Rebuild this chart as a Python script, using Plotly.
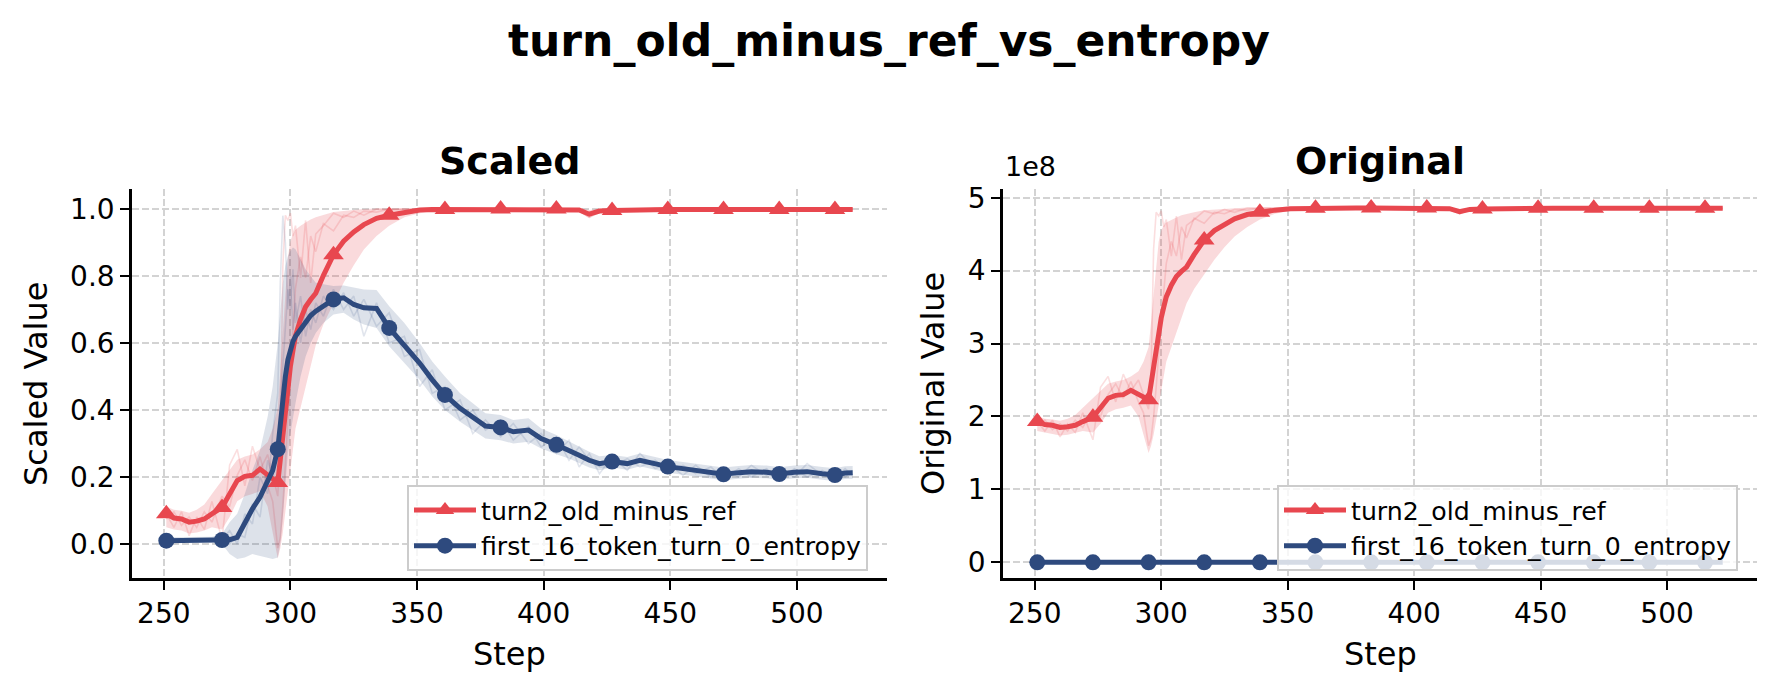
import plotly.graph_objects as go

# ---------------- data ----------------
steps = [251, 254, 257, 260, 263, 266, 269, 273, 276, 279,
         282, 285, 288, 291, 293, 295, 296, 297, 298, 299,
         300, 301, 302, 304, 306, 308, 310, 313, 317, 321,
         325, 329, 334, 339, 345, 351, 356, 361, 367, 372,
         377, 383, 388, 394, 399, 405, 410, 414, 418, 422,
         427, 433, 438, 444, 449, 455, 460, 466, 471, 477,
         482, 488, 493, 499, 504, 510, 515, 519, 522]

marker_steps = [251, 273, 295, 317, 339, 361, 383, 405, 427, 449, 471, 493, 515]

# turn2_old_minus_ref, original values in units of 1e8
red_mean = [1.93, 1.89, 1.88, 1.85, 1.86, 1.88, 1.93, 1.99, 2.12, 2.25,
            2.29, 2.30, 2.36, 2.30, 2.26, 2.23, 2.45, 2.68, 2.95, 3.20,
            3.35, 3.50, 3.64, 3.80, 3.92, 3.99, 4.05, 4.22, 4.42, 4.55,
            4.64, 4.71, 4.77, 4.80, 4.83, 4.85, 4.855, 4.855, 4.86, 4.86,
            4.86, 4.86, 4.86, 4.86, 4.86, 4.86, 4.855, 4.85, 4.81, 4.84,
            4.845, 4.85, 4.855, 4.855, 4.855, 4.855, 4.855, 4.855, 4.855, 4.855,
            4.855, 4.855, 4.855, 4.855, 4.855, 4.855, 4.855, 4.855, 4.855]
red_lo = [1.80, 1.78, 1.77, 1.74, 1.75, 1.77, 1.80, 1.78, 1.90, 2.05,
          2.10, 2.12, 2.15, 2.00, 1.75, 1.50, 1.60, 1.75, 1.95, 2.15,
          2.35, 2.55, 2.75, 2.95, 3.15, 3.35, 3.55, 3.75, 3.95, 4.15,
          4.32, 4.47, 4.60, 4.70, 4.78, 4.82, 4.835, 4.84, 4.845, 4.845,
          4.845, 4.845, 4.845, 4.845, 4.845, 4.845, 4.84, 4.83, 4.77, 4.82,
          4.83, 4.84, 4.84, 4.84, 4.84, 4.84, 4.84, 4.84, 4.84, 4.84,
          4.84, 4.84, 4.84, 4.84, 4.84, 4.84, 4.84, 4.84, 4.84]
red_hi = [2.00, 1.97, 1.96, 1.94, 1.97, 2.02, 2.12, 2.25, 2.35, 2.45,
          2.48, 2.50, 2.55, 2.62, 2.75, 2.95, 3.30, 3.70, 4.10, 4.40,
          4.55, 4.62, 4.66, 4.70, 4.73, 4.76, 4.78, 4.80, 4.83, 4.84,
          4.85, 4.86, 4.865, 4.87, 4.87, 4.87, 4.87, 4.87, 4.875, 4.875,
          4.875, 4.875, 4.875, 4.875, 4.875, 4.875, 4.87, 4.87, 4.85, 4.86,
          4.86, 4.865, 4.87, 4.87, 4.87, 4.87, 4.87, 4.87, 4.87, 4.87,
          4.87, 4.87, 4.87, 4.87, 4.87, 4.87, 4.87, 4.87, 4.87]
red_raw1 = [1.93, 1.80, 1.95, 1.72, 1.90, 1.78, 2.05, 1.68, 2.40, 2.55,
            2.20, 2.58, 2.35, 2.50, 2.30, 2.10, 2.60, 4.30, 4.80, 4.75,
            4.82, 4.60, 4.70, 4.20, 4.75, 4.15, 4.62, 4.70, 4.82, 4.78,
            4.84, 4.80, 4.86, 4.85, 4.86, 4.85, 4.87, 4.86, 4.86, 4.87,
            4.86, 4.87, 4.86, 4.86, 4.87, 4.86, 4.86, 4.84, 4.78, 4.85,
            4.86, 4.86, 4.85, 4.87, 4.86, 4.86, 4.85, 4.86, 4.87, 4.86,
            4.86, 4.85, 4.86, 4.86, 4.87, 4.86, 4.86, 4.85, 4.86]
red_raw2 = [1.88, 1.95, 1.82, 1.90, 1.80, 1.95, 1.85, 2.10, 2.00, 2.30,
            2.45, 2.25, 2.48, 2.20, 2.05, 1.60, 1.70, 2.00, 2.40, 2.90,
            3.30, 3.70, 4.10, 4.40, 4.20, 4.60, 4.45, 4.72, 4.65, 4.80,
            4.78, 4.84, 4.83, 4.86, 4.85, 4.86, 4.85, 4.86, 4.87, 4.86,
            4.86, 4.86, 4.87, 4.86, 4.86, 4.87, 4.85, 4.86, 4.80, 4.84,
            4.85, 4.86, 4.86, 4.85, 4.86, 4.87, 4.86, 4.85, 4.86, 4.86,
            4.85, 4.86, 4.86, 4.85, 4.86, 4.86, 4.87, 4.86, 4.85]
red_scale_min = 1.64   # min/max used for the "Scaled" panel (1e8 units)
red_scale_max = 4.86

# first_16_token_turn_0_entropy (scaled values)
blue_mean = [0.010, 0.010, 0.010, 0.010, 0.010, 0.010, 0.010, 0.012, 0.013, 0.020,
             0.065, 0.105, 0.140, 0.185, 0.220, 0.283, 0.360, 0.440, 0.500, 0.550,
             0.585, 0.605, 0.620, 0.642, 0.665, 0.682, 0.695, 0.712, 0.730, 0.735,
             0.715, 0.705, 0.703, 0.645, 0.595, 0.540, 0.490, 0.445, 0.405, 0.380,
             0.352, 0.348, 0.335, 0.340, 0.315, 0.296, 0.280, 0.265, 0.250, 0.240,
             0.246, 0.240, 0.250, 0.240, 0.231, 0.225, 0.220, 0.214, 0.208, 0.213,
             0.216, 0.214, 0.209, 0.214, 0.216, 0.210, 0.206, 0.212, 0.213]
blue_lo = [0.000, 0.003, 0.003, 0.003, 0.003, 0.003, 0.003, 0.000, -0.030, -0.045,
           -0.040, -0.030, -0.035, -0.040, -0.045, -0.040, 0.000, 0.080, 0.180, 0.270,
           0.330, 0.380, 0.420, 0.500, 0.560, 0.600, 0.630, 0.660, 0.685, 0.690,
           0.670, 0.655, 0.645, 0.590, 0.540, 0.490, 0.440, 0.400, 0.365, 0.340,
           0.315, 0.310, 0.300, 0.305, 0.285, 0.268, 0.255, 0.242, 0.228, 0.220,
           0.228, 0.222, 0.232, 0.222, 0.213, 0.207, 0.202, 0.196, 0.190, 0.195,
           0.198, 0.196, 0.191, 0.196, 0.198, 0.192, 0.188, 0.194, 0.195]
blue_hi = [0.020, 0.020, 0.020, 0.020, 0.020, 0.020, 0.022, 0.030, 0.065, 0.090,
           0.150, 0.220, 0.280, 0.380, 0.470, 0.600, 0.700, 0.780, 0.830, 0.860,
           0.875, 0.885, 0.880, 0.850, 0.820, 0.800, 0.780, 0.775, 0.770, 0.772,
           0.765, 0.760, 0.758, 0.710, 0.660, 0.600, 0.545, 0.500, 0.450, 0.420,
           0.390, 0.385, 0.370, 0.375, 0.345, 0.325, 0.305, 0.290, 0.275, 0.262,
           0.266, 0.260, 0.270, 0.260, 0.251, 0.245, 0.240, 0.234, 0.228, 0.233,
           0.236, 0.234, 0.229, 0.234, 0.236, 0.230, 0.226, 0.232, 0.233]
blue_raw1 = [0.010, 0.008, 0.012, 0.009, 0.011, 0.010, 0.012, 0.015, 0.040, 0.000,
             0.090, 0.060, 0.200, 0.150, 0.330, 0.450, 0.780, 0.980, 0.900, 0.700,
             0.800, 0.640, 0.720, 0.600, 0.700, 0.640, 0.720, 0.680, 0.760, 0.700,
             0.740, 0.620, 0.720, 0.600, 0.620, 0.470, 0.520, 0.400, 0.430, 0.330,
             0.370, 0.320, 0.360, 0.300, 0.330, 0.270, 0.310, 0.230, 0.270, 0.210,
             0.260, 0.220, 0.270, 0.225, 0.240, 0.205, 0.235, 0.200, 0.225, 0.200,
             0.235, 0.205, 0.225, 0.200, 0.240, 0.205, 0.222, 0.200, 0.220]
blue_raw2 = [0.012, 0.011, 0.009, 0.012, 0.008, 0.011, 0.009, 0.010, 0.000, 0.030,
             0.020, 0.120, 0.080, 0.250, 0.200, 0.300, 0.420, 0.550, 0.650, 0.760,
             0.700, 0.820, 0.660, 0.740, 0.620, 0.700, 0.660, 0.740, 0.700, 0.750,
             0.680, 0.730, 0.650, 0.690, 0.560, 0.580, 0.450, 0.470, 0.370, 0.400,
             0.340, 0.370, 0.310, 0.350, 0.290, 0.320, 0.250, 0.290, 0.250, 0.230,
             0.230, 0.255, 0.230, 0.250, 0.220, 0.235, 0.210, 0.230, 0.195, 0.225,
             0.200, 0.225, 0.195, 0.225, 0.200, 0.220, 0.195, 0.225, 0.205]

x_ticks = [250, 300, 350, 400, 450, 500]
y_ticks_scaled = [0.0, 0.2, 0.4, 0.6, 0.8, 1.0]
y_ticks_orig = [0, 1, 2, 3, 4, 5]
E8 = 1e8

names = ["turn2_old_minus_ref", "first_16_token_turn_0_entropy"]

# ---------------- style ----------------
W, H = 1777, 692
FONT = "DejaVu Sans"
RED = "#E8474F"
BLUE = "#2E4A7E"
RED_BAND = "rgba(232,71,79,0.20)"
BLUE_BAND = "rgba(46,74,126,0.16)"
RED_RAW = "rgba(232,71,79,0.18)"
BLUE_RAW = "rgba(46,74,126,0.14)"
LW = 5
TRI = 18
CIR = 16


def px(x):
    return x / W


def py(y):
    return 1 - y / H


def scale_red(vals):
    return [(v - red_scale_min) / (red_scale_max - red_scale_min) for v in vals]


def to_e8(vals):
    return [v * E8 for v in vals]


mark_idx = [steps.index(s) for s in marker_steps]

fig = go.Figure()


def add_band(xa, ya, lo, hi, raws, band, rawc):
    fig.add_trace(go.Scatter(x=steps, y=lo, mode="lines", line=dict(width=0, color=band),
                             xaxis=xa, yaxis=ya, showlegend=False, hoverinfo="skip"))
    fig.add_trace(go.Scatter(x=steps, y=hi, mode="lines", line=dict(width=0, color=band),
                             fill="tonexty", fillcolor=band,
                             xaxis=xa, yaxis=ya, showlegend=False, hoverinfo="skip"))
    for r in raws:
        fig.add_trace(go.Scatter(x=steps, y=r, mode="lines", line=dict(width=1.6, color=rawc),
                                 xaxis=xa, yaxis=ya, showlegend=False, hoverinfo="skip"))


def add_mean(xa, ya, mean, color, symbol, msize):
    fig.add_trace(go.Scatter(x=steps, y=mean, mode="lines", line=dict(width=LW, color=color),
                             xaxis=xa, yaxis=ya, showlegend=False))
    fig.add_trace(go.Scatter(x=[steps[i] for i in mark_idx], y=[mean[i] for i in mark_idx],
                             mode="markers", marker=dict(symbol=symbol, size=msize, color=color,
                                                         line=dict(width=0)),
                             xaxis=xa, yaxis=ya, showlegend=False))


# Scaled panel
add_band("x", "y", scale_red(red_lo), scale_red(red_hi),
         [scale_red(red_raw1), scale_red(red_raw2)], RED_BAND, RED_RAW)
add_band("x", "y", blue_lo, blue_hi, [blue_raw1, blue_raw2], BLUE_BAND, BLUE_RAW)
add_mean("x", "y", scale_red(red_mean), RED, "triangle-up", TRI)
add_mean("x", "y", blue_mean, BLUE, "circle", CIR)

# Original panel
add_band("x2", "y2", to_e8(red_lo), to_e8(red_hi),
         [to_e8(red_raw1), to_e8(red_raw2)], RED_BAND, RED_RAW)
add_mean("x2", "y2", to_e8(red_mean), RED, "triangle-up", TRI)
add_mean("x2", "y2", blue_mean, BLUE, "circle", CIR)

# legend entries
for lg, xa, ya in [("legend", "x", "y"), ("legend2", "x2", "y2")]:
    fig.add_trace(go.Scatter(x=[None], y=[None], mode="lines+markers", name=names[0],
                             line=dict(width=LW, color=RED),
                             marker=dict(symbol="triangle-up", size=16, color=RED),
                             legend=lg, xaxis=xa, yaxis=ya))
    fig.add_trace(go.Scatter(x=[None], y=[None], mode="lines+markers", name=names[1],
                             line=dict(width=LW, color=BLUE),
                             marker=dict(symbol="circle", size=CIR, color=BLUE),
                             legend=lg, xaxis=xa, yaxis=ya))

axis_common = dict(showline=True, linecolor="black", linewidth=2.5, ticks="outside", ticklen=9,
                   tickwidth=2, tickcolor="black", showgrid=True, gridcolor="#d3d3d3",
                   griddash="7px,3px", gridwidth=1.5, zeroline=False, automargin=False,
                   tickfont=dict(family=FONT, size=28, color="black"), mirror=False)

legend_common = dict(xanchor="left", yanchor="top", traceorder="normal", itemwidth=62,
                     bgcolor="rgba(255,255,255,0.8)", bordercolor="#cccccc", borderwidth=2,
                     font=dict(family=FONT, size=25.2, color="black"), tracegroupgap=0)

y_dom = [py(578), py(189)]
fig.update_layout(
    width=W, height=H,
    margin=dict(l=0, r=0, t=0, b=0),
    paper_bgcolor="white", plot_bgcolor="white",
    font=dict(family=FONT, color="black"),
    xaxis=dict(domain=[px(132), px(887)], range=[237.45, 535.55], tickvals=x_ticks,
               anchor="y", **axis_common),
    yaxis=dict(domain=y_dom, range=[-0.1015, 1.0597], tickvals=y_ticks_scaled,
               ticktext=["%.1f" % v for v in y_ticks_scaled], anchor="x", **axis_common),
    xaxis2=dict(domain=[px(1003), px(1757)], range=[237.45, 535.55], tickvals=x_ticks,
                anchor="y2", **axis_common),
    yaxis2=dict(domain=y_dom, range=[-0.215e8, 5.12e8], tickvals=[v * E8 for v in y_ticks_orig],
                ticktext=[str(v) for v in y_ticks_orig], anchor="x2", **axis_common),
    legend=dict(x=px(407), y=py(485), **legend_common),
    legend2=dict(x=px(1277), y=py(485), **legend_common),
    showlegend=True,
)

ann = [
    dict(text="<b>turn_old_minus_ref_vs_entropy</b>", x=0.5, y=py(41), size=44),
    dict(text="<b>Scaled</b>", x=px(509.5), y=py(161), size=38),
    dict(text="<b>Original</b>", x=px(1380), y=py(161), size=38),
    dict(text="Step", x=px(509.5), y=py(654), size=32),
    dict(text="Step", x=px(1380), y=py(654), size=32),
]
for a in ann:
    fig.add_annotation(text=a["text"], x=a["x"], y=a["y"], xref="paper", yref="paper",
                       xanchor="center", yanchor="middle", showarrow=False,
                       font=dict(family=FONT, size=a["size"], color="black"))
for txt, xx in [("Scaled Value", 36), ("Original Value", 933)]:
    fig.add_annotation(text=txt, x=px(xx), y=py(384), xref="paper", yref="paper",
                       xanchor="center", yanchor="middle", showarrow=False, textangle=-90,
                       font=dict(family=FONT, size=32, color="black"))
fig.add_annotation(text="1e8", x=px(1003), y=py(184), xref="paper", yref="paper",
                   xanchor="left", yanchor="bottom", showarrow=False,
                   font=dict(family=FONT, size=27, color="black"))

fig.write_html("out.html")
